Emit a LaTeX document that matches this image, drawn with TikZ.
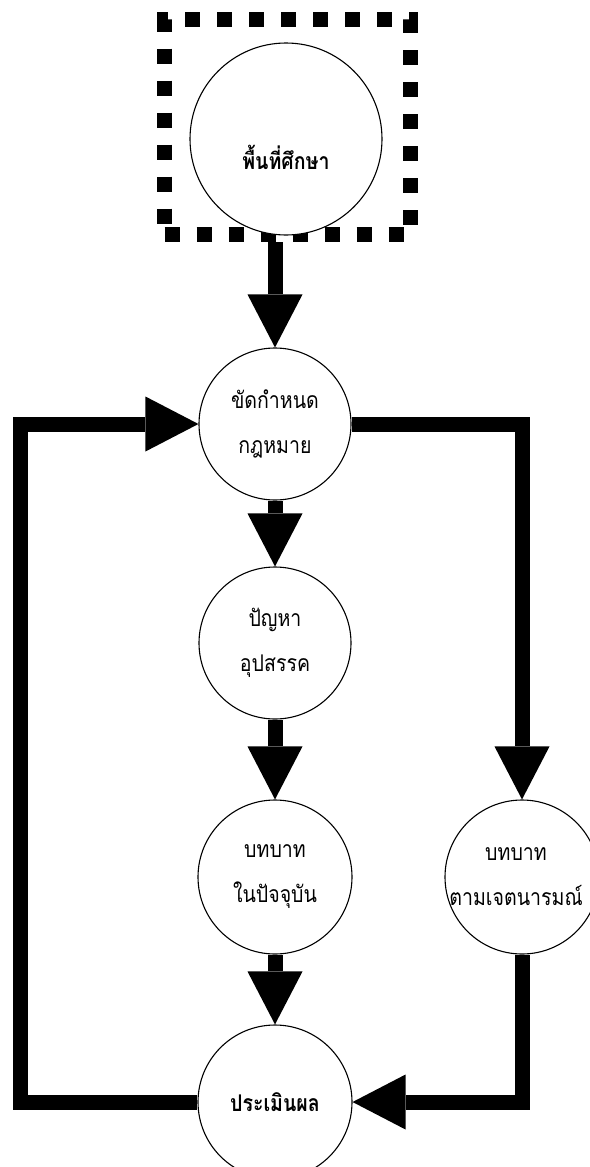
\documentclass[tikz,border=0pt]{standalone}
\usepackage{fontspec}
\setmainfont[Script=Thai,FakeStretch=0.85]{Loma}
\usetikzlibrary{arrows.meta}
\newcommand\thaitext{\fontsize{23}{45}\selectfont}

\begin{document}
\begin{tikzpicture}[
  x=1pt,y=-1pt,
  circ/.style={circle,draw,line width=1.1pt,minimum size=154pt,inner sep=0pt},
  txt/.style={align=center,font=\thaitext},
  bold/.style={txt,font=\thaitext\bfseries},
  frame/.style={draw,line width=15pt,dash pattern=on 15pt off 17pt,
    minimum width=246pt,minimum height=215pt,inner sep=0pt},
  flow/.style={line width=15pt,-{Triangle[length=53pt,width=55pt,line width=0pt]}}
]
\useasboundingbox (0,0) rectangle (589,1167);

\node[frame] (frame) at (287.5,127) {};
\node[circ,minimum size=192pt,fill=white,
  label={[bold,yshift=-18pt]center:พื้นที่ศึกษา}] (area) at (286,139) {};
\node[circ,minimum size=152pt,label={[txt]center:ขัดกำหนด\\กฎหมาย}] (legal) at (275,424) {};
\node[circ,minimum size=152pt,label={[txt]center:ปัญหา\\อุปสรรค}] (obstacle) at (275,643) {};
\node[circ,label={[txt]center:บทบาท\\ในปัจจุบัน}] (current) at (275,877) {};
\node[circ,label={[txt,xshift=-6pt]center:บทบาท\\ตามเจตนารมณ์}] (intent) at (522,877) {};
\node[circ,label={[bold]center:ประเมินผล}] (eval) at (275,1102) {};

\draw[flow] (legal.north |- frame.south) -- (legal.north);
\draw[flow] (legal) -- (obstacle);
\draw[flow] (obstacle) -- (current);
\draw[flow] (current) -- (eval);
\draw[flow] (legal.east) -| (intent.north);
\draw[flow] (intent.south) |- (eval.east);
\draw[flow] (eval.west) -- ++(-177,0) |- (legal.west);
\end{tikzpicture}
\end{document}
